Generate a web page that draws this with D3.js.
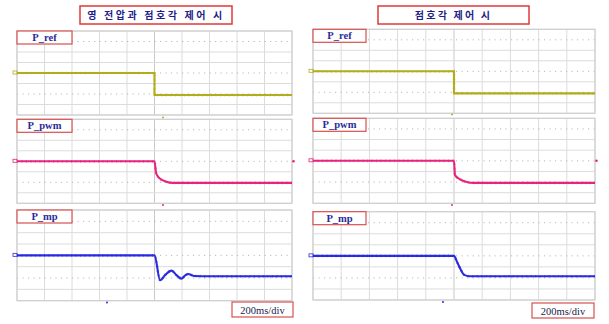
<!DOCTYPE html>
<html>
<head>
<meta charset="utf-8">
<script src="https://cdn.jsdelivr.net/npm/d3@7"></script>
<style>
  html, body { margin: 0; padding: 0; background: #fff; }
  svg { display: block; }
</style>
</head>
<body>
<svg id="chart" width="609" height="324"></svg>
<script>
// Oscilloscope captures: two control schemes, three channels each.
// Time in ms (200 ms/div, 10 divisions), amplitude in divisions from screen centre.
const titles = ["영 전압과 점호각 제어 시", "점호각 제어 시"];
const channels = ["P_ref", "P_pwm", "P_mp"];
const channelColors = ["#b2ad1c", "#e8257e", "#2a2ae0"];
const timeBase = "200ms/div";
const timeTicks = [0, 200, 400, 600, 800, 1000, 1200, 1400, 1600, 1800, 2000];
const levelTicks = [-4, -3, -2, -1, 0, 1, 2, 3, 4];
const dottedLevels = [3, 0, -2];

// Left capture: zero-voltage + firing-angle control
const leftRef = [[0, 0], [1000, 0], [1000, -2.1], [2000, -2.1]];
const leftPwm = [[0, 0], [1000, 0], [1012, -1.14], [1036, -1.62], [1085, -1.94], [1133, -2.05], [2000, -2.05]];
const leftMp = [[0, 0], [1000, 0], [1041, -2.2], [1080, -1.7], [1124, -1.35], [1160, -1.75], [1196, -2.05], [1225, -1.75], [1244, -1.65], [1290, -1.82], [1400, -1.85], [2000, -1.85]];

// Right capture: firing-angle control only
const rightRef = [[0, 0], [1000, 0], [1000, -2.1], [2000, -2.1]];
const rightPwm = [[0, 0], [1000, 0], [1007, -1.35], [1043, -1.74], [1090, -1.99], [1137, -2.08], [2000, -2.08]];
const rightMp = [[0, 0], [1000, 0], [1020, -0.5], [1050, -1.3], [1070, -1.7], [1110, -1.85], [2000, -1.85]];

const seriesByColumn = [[leftRef, leftPwm, leftMp], [rightRef, rightPwm, rightMp]];

// Screen layout
const columns = [
  { x0: 17, x1: 292, rows: [[31, 115], [119.3, 203.3], [210, 300.7]],
    titleBox: [80, 6, 152, 18], labelW: 55, timeBox: [232, 302, 61, 15],
    triggers: [[163, 117.5], [163, 205], [107, 302.5]], titleSpacing: 2.6 },
  { x0: 313, x1: 595, rows: [[29.3, 113.3], [118.3, 203.3], [211.7, 300]],
    titleBox: [378, 6, 151, 18], labelW: 53, timeBox: [532, 303, 62, 15],
    triggers: [[452, 114.5], [452, 205], [443, 302]], titleSpacing: 2.2 }
];

const svg = d3.select("#chart");

columns.forEach((col, ci) => {
  const x = d3.scaleLinear().domain([0, 2000]).range([col.x0, col.x1]);

  // title box
  const [tx, ty, tw, th] = col.titleBox;
  svg.append("rect").attr("x", tx).attr("y", ty).attr("width", tw).attr("height", th)
    .attr("fill", "#fff").attr("stroke", "#e03a3a").attr("stroke-width", 1.5);
  svg.append("text").attr("x", tx + tw / 2).attr("y", ty + th / 2 + 4)
    .attr("text-anchor", "middle")
    .attr("font-family", "'Noto Sans CJK KR', sans-serif").attr("font-weight", "bold")
    .attr("font-size", 10).attr("letter-spacing", col.titleSpacing).attr("fill", "#1c1c8a")
    .text(titles[ci]);

  col.rows.forEach((row, ri) => {
    const y = d3.scaleLinear().domain([-4, 4]).range([row[1], row[0]]);
    const g = svg.append("g");

    // grid
    g.selectAll("line.v").data(timeTicks).join("line")
      .attr("x1", d => x(d)).attr("x2", d => x(d))
      .attr("y1", row[0]).attr("y2", row[1])
      .attr("stroke", d => d === 1000 ? "#c8c8c8" : "#dcdcdc").attr("stroke-width", 1);
    g.selectAll("line.h").data(levelTicks).join("line")
      .attr("x1", col.x0).attr("x2", col.x1)
      .attr("y1", d => y(d)).attr("y2", d => y(d))
      .attr("stroke", d => dottedLevels.includes(d) ? "#b8b8b8" : "#dcdcdc")
      .attr("stroke-width", 1)
      .attr("stroke-dasharray", d => dottedLevels.includes(d) ? "1.2,4.3" : null);
    g.append("rect").attr("x", col.x0).attr("y", row[0])
      .attr("width", col.x1 - col.x0).attr("height", row[1] - row[0])
      .attr("fill", "none").attr("stroke", "#cfcfcf").attr("stroke-width", 1.2);

    // trace
    const data = seriesByColumn[ci][ri];
    const line = d3.line().x(d => x(d[0])).y(d => y(d[1]))
      .curve(ri === 0 ? d3.curveLinear : d3.curveMonotoneX);
    const color = channelColors[ri];
    g.append("path").datum(data).attr("d", line)
      .attr("fill", "none").attr("stroke", color).attr("stroke-width", 2.1);
    g.append("path").datum(data).attr("d", line)
      .attr("fill", "none").attr("stroke", color).attr("stroke-width", 2.7)
      .attr("stroke-dasharray", "1,3.5").attr("opacity", 0.55);

    // channel ground marker
    g.append("rect").attr("x", col.x0 - 4).attr("y", y(data[0][1]) - 2)
      .attr("width", 4).attr("height", 3)
      .attr("fill", "none").attr("stroke", color).attr("stroke-width", 0.8);

    // trigger marker
    const [mx, my] = col.triggers[ri];
    g.append("circle").attr("cx", mx).attr("cy", my).attr("r", 1)
      .attr("fill", color);

    // channel label
    g.append("rect").attr("x", col.x0).attr("y", row[0])
      .attr("width", col.labelW).attr("height", 13)
      .attr("fill", "#fff").attr("stroke", "#d85050").attr("stroke-width", 1.2);
    g.append("text").attr("x", col.x0 + col.labelW / 2).attr("y", row[0] + 10)
      .attr("text-anchor", "middle")
      .attr("font-family", "'Liberation Serif', serif").attr("font-weight", "bold")
      .attr("font-size", 10.5).attr("fill", "#2a2a9a")
      .text(channels[ri]);
  });

  // pwm channel level marker at the right edge
  const yp = d3.scaleLinear().domain([-4, 4]).range([col.rows[1][1], col.rows[1][0]]);
  svg.append("circle").attr("cx", col.x1 + 1.5).attr("cy", yp(0)).attr("r", 1.3)
    .attr("fill", channelColors[1]);

  // time base box
  const [bx, by, bw, bh] = col.timeBox;
  svg.append("rect").attr("x", bx).attr("y", by).attr("width", bw).attr("height", bh)
    .attr("fill", "#fff").attr("stroke", "#d85050").attr("stroke-width", 1.2);
  svg.append("text").attr("x", bx + bw / 2).attr("y", by + bh / 2 + 4)
    .attr("text-anchor", "middle")
    .attr("font-family", "'Liberation Serif', serif")
    .attr("font-size", 10.5).attr("fill", "#22224a")
    .text(timeBase);
});
</script>
</body>
</html>
